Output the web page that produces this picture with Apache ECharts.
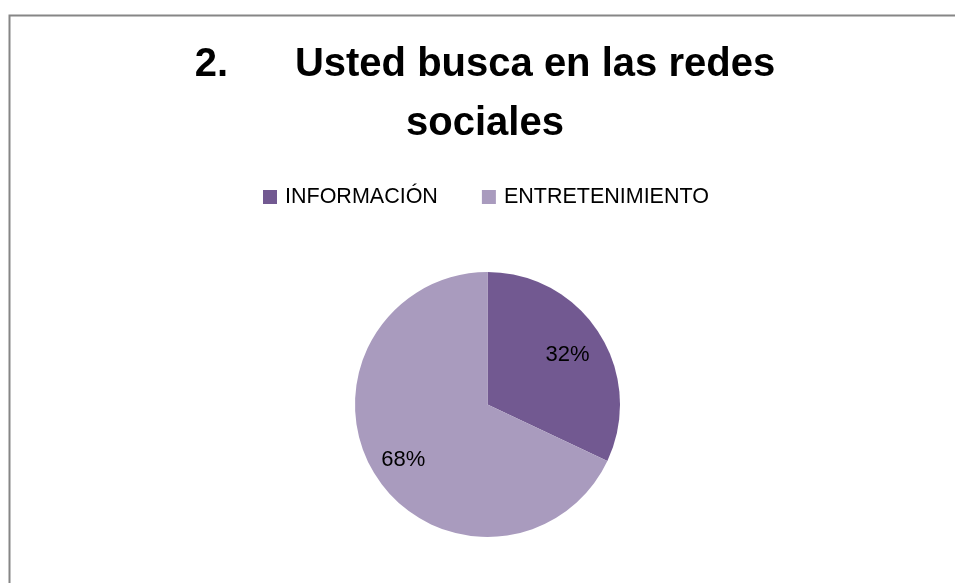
<!DOCTYPE html>
<html>
<head>
<meta charset="utf-8">
<script src="https://cdn.jsdelivr.net/npm/echarts@6/dist/echarts.min.js"></script>
<style>
html,body{margin:0;padding:0;background:#fff;}
#chart{width:955px;height:583px;}
</style>
</head>
<body>
<div id="chart"></div>
<script>
const titleText = '2.      Usted busca en las redes\nsociales';
const categories = ['INFORMACIÓN', 'ENTRETENIMIENTO'];
const values = [32, 68];
const colors = ['#725991', '#A99BBE'];

const chart = echarts.init(document.getElementById('chart'), null, {renderer: 'canvas'});
const data = categories.map((c, i) => ({name: c, value: values[i], itemStyle: {color: colors[i]}}));

chart.setOption({
  animation: false,
  backgroundColor: '#ffffff',
  graphic: [{
    type: 'rect', left: 7, top: 13, silent: true,
    shape: {width: 1200, height: 800},
    style: {fill: 'none', stroke: '#868686', lineWidth: 2}
  }],
  title: {
    text: titleText,
    left: 485, top: 35, padding: 0,
    textAlign: 'center',
    textStyle: {fontFamily: 'Liberation Sans', fontWeight: 'bold', fontSize: 40, lineHeight: 59, color: '#000'}
  },
  legend: {
    data: categories,
    left: 263, top: 186, padding: 0,
    itemWidth: 14, itemHeight: 14, itemGap: 44,
    icon: 'rect',
    textStyle: {fontFamily: 'Liberation Sans', fontSize: 21.5, color: '#000', padding: [0, 0, 0, 3]}
  },
  series: [{
    type: 'pie',
    center: [487.5, 404.5],
    radius: [0, 132.5],
    startAngle: 90,
    clockwise: true,
    silent: true,
    label: {show: false},
    labelLine: {show: false},
    itemStyle: {borderWidth: 0},
    data: data
  }, {
    type: 'pie',
    center: [487.5, 404.5],
    radius: [56, 132.5],
    startAngle: 90,
    clockwise: true,
    silent: true,
    legendHoverLink: false,
    itemStyle: {color: 'rgba(0,0,0,0)', borderWidth: 0},
    label: {show: true, position: 'inside', formatter: '{c}%', fontFamily: 'Liberation Sans', fontSize: 22, color: '#000', offset: [-2, 3]},
    labelLine: {show: false},
    data: categories.map((c, i) => ({name: c + ' ', value: values[i]}))
  }]
});
</script>
</body>
</html>
